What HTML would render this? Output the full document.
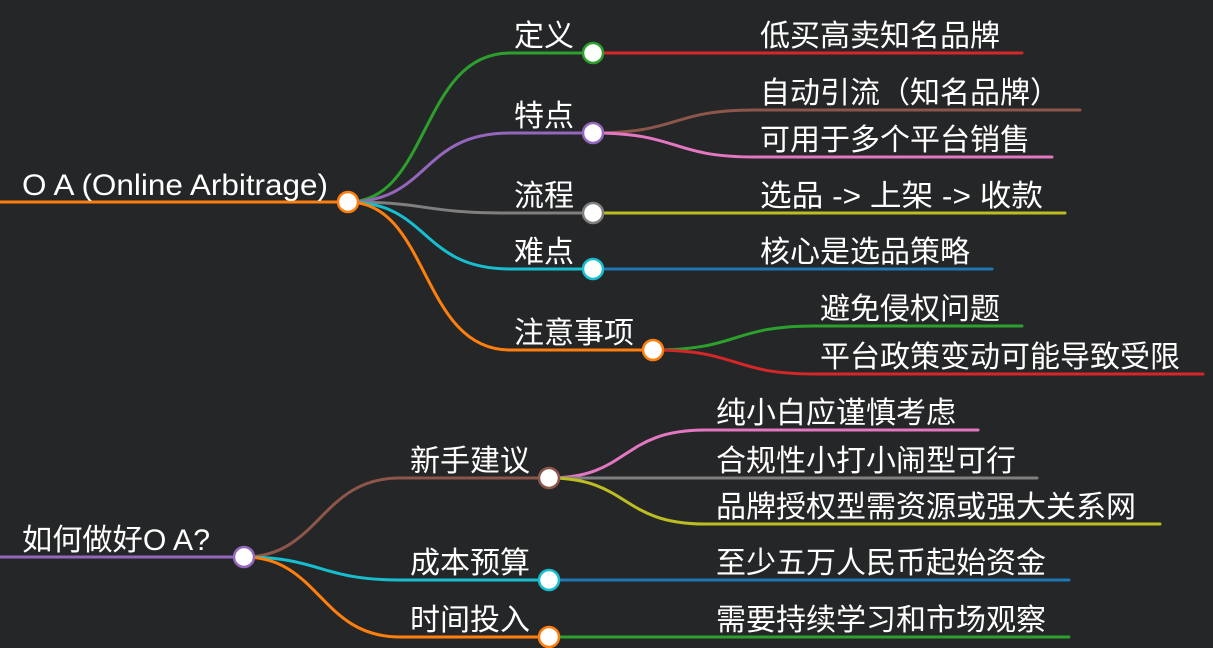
<!DOCTYPE html>
<html><head><meta charset="utf-8"><style>
html,body{margin:0;padding:0;background:#252627;}
svg{display:block}
text{font-family:"Liberation Sans","Noto Sans CJK SC",sans-serif;font-size:30px;fill:#ffffff;}
</style></head><body>
<svg width="1213" height="648" viewBox="0 0 1213 648" xmlns="http://www.w3.org/2000/svg">
<g fill="none" stroke-width="3" stroke-linecap="round">
<path d="M0 202 H348" stroke="#ff7f0e"/>
<path d="M348 202 C430 202 420 53 510 53 H593" stroke="#2ca02c"/>
<path d="M348 202 C430 202 420 133 510 133 H593" stroke="#9467bd"/>
<path d="M348 202 C430 202 420 213 510 213 H593" stroke="#7f7f7f"/>
<path d="M348 202 C430 202 420 269 510 269 H593" stroke="#17becf"/>
<path d="M348 202 C430 202 420 350 510 350 H653" stroke="#ff7f0e"/>
<path d="M593 53 H1022" stroke="#d62728"/>
<path d="M593 133 C680 133 670 110 755 110 H1080" stroke="#8c564b"/>
<path d="M593 133 C680 133 670 157 755 157 H1052" stroke="#e377c2"/>
<path d="M593 213 H1065" stroke="#bcbd22"/>
<path d="M593 269 H992" stroke="#1f77b4"/>
<path d="M653 350 C740 350 730 326 815 326 H1022" stroke="#2ca02c"/>
<path d="M653 350 C740 350 730 374 815 374 H1203" stroke="#d62728"/>
<path d="M0 557 H244" stroke="#9467bd"/>
<path d="M244 557 C320 557 320 478 400 478 H549" stroke="#8c564b"/>
<path d="M244 557 C320 557 320 580 400 580 H549" stroke="#17becf"/>
<path d="M244 557 C320 557 320 637 400 637 H549" stroke="#ff7f0e"/>
<path d="M549 478 C630 478 620 430 705 430 H978" stroke="#e377c2"/>
<path d="M549 478 H1037" stroke="#7f7f7f"/>
<path d="M549 478 C630 478 620 524 705 524 H1160" stroke="#bcbd22"/>
<path d="M549 580 H1069" stroke="#1f77b4"/>
<path d="M549 637 H1069" stroke="#2ca02c"/>
</g>
<g fill="#ffffff" stroke-width="2.5">
<circle cx="348" cy="202" r="10" stroke="#ff7f0e"/>
<circle cx="593" cy="53" r="10" stroke="#2ca02c"/>
<circle cx="593" cy="133" r="10" stroke="#9467bd"/>
<circle cx="593" cy="213" r="10" stroke="#7f7f7f"/>
<circle cx="593" cy="269" r="10" stroke="#17becf"/>
<circle cx="653" cy="350" r="10" stroke="#ff7f0e"/>
<circle cx="244" cy="557" r="10" stroke="#9467bd"/>
<circle cx="549" cy="478" r="10" stroke="#8c564b"/>
<circle cx="549" cy="580" r="10" stroke="#17becf"/>
<circle cx="549" cy="637" r="10" stroke="#ff7f0e"/>
</g>
<text x="22" y="195" textLength="306" lengthAdjust="spacingAndGlyphs">O A (Online Arbitrage)</text>
<text x="514" y="46">定义</text>
<text x="514" y="126">特点</text>
<text x="514" y="206">流程</text>
<text x="514" y="262">难点</text>
<text x="514" y="343">注意事项</text>
<text x="760" y="46">低买高卖知名品牌</text>
<text x="760" y="103">自动引流（知名品牌）</text>
<text x="760" y="150">可用于多个平台销售</text>
<text x="760" y="206" textLength="283" lengthAdjust="spacingAndGlyphs">选品 -&gt; 上架 -&gt; 收款</text>
<text x="760" y="262">核心是选品策略</text>
<text x="820" y="319">避免侵权问题</text>
<text x="820" y="367">平台政策变动可能导致受限</text>
<text x="22" y="550" textLength="188" lengthAdjust="spacingAndGlyphs">如何做好O A?</text>
<text x="410" y="471">新手建议</text>
<text x="410" y="573">成本预算</text>
<text x="410" y="630">时间投入</text>
<text x="716" y="423">纯小白应谨慎考虑</text>
<text x="716" y="471">合规性小打小闹型可行</text>
<text x="716" y="517">品牌授权型需资源或强大关系网</text>
<text x="716" y="573">至少五万人民币起始资金</text>
<text x="716" y="630">需要持续学习和市场观察</text>
</svg>
</body></html>
